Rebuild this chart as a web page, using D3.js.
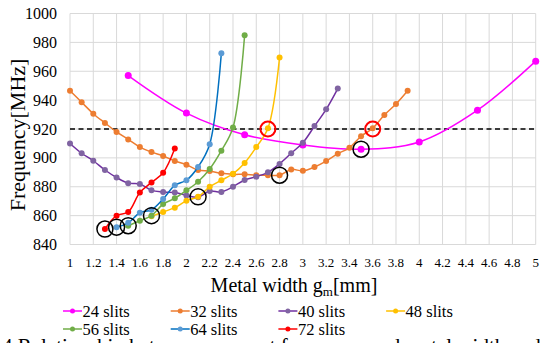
<!DOCTYPE html>
<html>
<head>
<meta charset="utf-8">
<script src="https://cdn.jsdelivr.net/npm/d3@7"></script>
<style>
  html, body { margin: 0; padding: 0; background: #fff; overflow: hidden; }
  svg { display: block; }
  .serif { font-family: 'Times New Roman', 'Liberation Serif', Tinos, 'DejaVu Serif', 'Noto Serif', Times, serif; }
</style>
</head>
<body>
<div id="chart"></div>
<script>
// Frequency vs metal width for different slit counts
const x24 = [1.5, 2.0, 2.5, 3.0, 3.5, 4.0, 4.5, 5.0];
const y24 = [957, 931, 916, 909, 906, 911, 933, 967];

const x32 = [1.0, 1.1, 1.2, 1.3, 1.4, 1.5, 1.6, 1.7, 1.8, 1.9, 2.0, 2.1, 2.2, 2.3, 2.4,
             2.5, 2.6, 2.7, 2.8, 2.9, 3.0, 3.1, 3.2, 3.3, 3.4, 3.5, 3.6, 3.7, 3.8, 3.9];
const y32 = [946.5, 938.5, 930.6, 924.2, 918, 912.8, 907.5, 904, 901.3, 897.8, 895.3, 891.6, 890.9, 889.3, 888.6,
             888.6, 888, 888, 888, 892, 891, 893.7, 897.8, 902.9, 907, 915, 920.5, 929.7, 937.3, 946.5];

const x40 = [1.0, 1.1, 1.2, 1.3, 1.4, 1.5, 1.6, 1.7, 1.8, 1.9, 2.0, 2.1,
             2.2, 2.3, 2.4, 2.5, 2.6, 2.7, 2.8, 2.9, 3.0, 3.1, 3.2, 3.3];
const y40 = [910, 903.2, 898, 891.6, 886.4, 882.5, 881.9, 877.5, 876.4, 876, 874, 872.8,
             877, 876.4, 880, 884.7, 887, 890, 895.8, 903.2, 910.5, 922, 933.6, 948];

const x48 = [1.7, 1.8, 1.9, 2.0, 2.1, 2.2, 2.3, 2.4, 2.5, 2.6, 2.7, 2.8];
const y48 = [859.5, 862.5, 865.5, 870.3, 873, 880, 884.5, 889, 896.5, 907.5, 920.5, 969.5];

const x56 = [1.5, 1.6, 1.7, 1.8, 1.9, 2.0, 2.1, 2.2, 2.3, 2.4, 2.5];
const y56 = [853, 856.5, 860, 868, 872, 877.5, 883.5, 892.3, 905, 921, 985];

const x64 = [1.4, 1.5, 1.6, 1.7, 1.8, 1.9, 2.0, 2.1, 2.2, 2.3];
const y64 = [852, 855, 862, 864, 871.5, 881, 884.5, 893.7, 909.5, 972.5];

const x72 = [1.3, 1.4, 1.5, 1.6, 1.7, 1.8, 1.9];
const y72 = [850.7, 860, 862.5, 876, 883, 889.7, 906.5];

const seriesNames = ["24 slits", "32 slits", "40 slits", "48 slits", "56 slits", "64 slits", "72 slits"];
const lineColors = ["#ff00ff", "#ed7d31", "#7030a0", "#ffc000", "#70ad47", "#0070c0", "#ff0000"];
const dotColors = ["#ff00ff", "#ed7d31", "#8064a2", "#ffc000", "#70ad47", "#5b9bd5", "#ff0000"];

// black circles: minimum of each series; red circles: 920 MHz crossings
const minMarks = [[1.3, 850.7], [1.4, 852], [1.5, 853], [1.7, 860], [2.1, 873], [2.8, 888], [3.5, 906]];
const targetMarks = [[2.7, 920], [3.6, 920]];
const targetFreq = 920;

const xTicks = d3.range(1, 5.0001, 0.2).map(v => +v.toFixed(1));
const yTicks = [840, 860, 880, 900, 920, 940, 960, 980, 1000];

const seriesX = [x24, x32, x40, x48, x56, x64, x72];
const seriesY = [y24, y32, y40, y48, y56, y64, y72];
const series = seriesNames.map((name, i) => ({
    name: name,
    line: lineColors[i],
    dot: dotColors[i],
    points: seriesX[i].map((xv, j) => [xv, seriesY[i][j]])
}));

const width = 540, height = 343;
const plot = { left: 70, right: 535.7, top: 13.5, bottom: 244.5 };

const svg = d3.select('#chart').append('svg')
    .attr('width', width)
    .attr('height', height);

const x = d3.scaleLinear().domain([1, 5]).range([plot.left, plot.right]);
const y = d3.scaleLinear().domain([840, 1000]).range([plot.bottom, plot.top]);

// grid
svg.append('g').selectAll('line.v')
    .data(xTicks)
    .enter().append('line')
    .attr('x1', d => x(d)).attr('x2', d => x(d))
    .attr('y1', plot.top).attr('y2', plot.bottom)
    .attr('stroke', '#d9d9d9').attr('stroke-width', 1);

svg.append('g').selectAll('line.h')
    .data(yTicks)
    .enter().append('line')
    .attr('x1', plot.left).attr('x2', plot.right)
    .attr('y1', d => y(d)).attr('y2', d => y(d))
    .attr('stroke', '#d9d9d9').attr('stroke-width', 1);

// tick labels
svg.append('g').selectAll('text')
    .data(yTicks)
    .enter().append('text')
    .attr('class', 'serif')
    .attr('x', 57)
    .attr('y', d => y(d) + 5.5)
    .attr('text-anchor', 'end')
    .attr('font-size', 16)
    .attr('fill', '#000')
    .text(d => d);

svg.append('g').selectAll('text')
    .data(xTicks)
    .enter().append('text')
    .attr('class', 'serif')
    .attr('x', d => x(d))
    .attr('y', 267)
    .attr('text-anchor', 'middle')
    .attr('font-size', 13)
    .attr('fill', '#000')
    .text(d => d);

// target frequency
svg.append('line')
    .attr('x1', x(1)).attr('x2', x(5))
    .attr('y1', y(targetFreq)).attr('y2', y(targetFreq))
    .attr('stroke', '#000')
    .attr('stroke-width', 1.5)
    .attr('stroke-dasharray', '5,3.5');

const line = d3.line()
    .x(d => x(d[0]))
    .y(d => y(d[1]))
    .curve(d3.curveCatmullRom.alpha(0.5));

const g = svg.append('g').selectAll('g')
    .data(series)
    .enter().append('g');

g.append('path')
    .attr('d', d => line(d.points))
    .attr('fill', 'none')
    .attr('stroke', d => d.line)
    .attr('stroke-width', 1.5);

g.selectAll('circle')
    .data(d => d.points.map(p => ({ p: p, c: d.dot, big: d.name === '24 slits' })))
    .enter().append('circle')
    .attr('cx', d => x(d.p[0]))
    .attr('cy', d => y(d.p[1]))
    .attr('r', d => d.big ? 3.5 : 3)
    .attr('fill', d => d.c);

// highlight rings
svg.append('g').selectAll('circle')
    .data(minMarks)
    .enter().append('circle')
    .attr('cx', d => x(d[0]))
    .attr('cy', d => y(d[1]))
    .attr('r', 8)
    .attr('fill', 'none')
    .attr('stroke', '#000')
    .attr('stroke-width', 1.5);

svg.append('g').selectAll('circle')
    .data(targetMarks)
    .enter().append('circle')
    .attr('cx', d => x(d[0]))
    .attr('cy', d => y(d[1]))
    .attr('r', 7.5)
    .attr('fill', 'none')
    .attr('stroke', '#ff0000')
    .attr('stroke-width', 2);

// axis titles
svg.append('text')
    .attr('class', 'serif')
    .attr('transform', 'translate(25,135) rotate(-90)')
    .attr('text-anchor', 'middle')
    .attr('font-size', 22)
    .text('Frequency[MHz]');

const xt = svg.append('text')
    .attr('class', 'serif')
    .attr('x', 294)
    .attr('y', 292)
    .attr('text-anchor', 'middle')
    .attr('font-size', 20);
xt.append('tspan').text('Metal width  g');
xt.append('tspan').attr('font-size', 13).attr('dy', 4).text('m');
xt.append('tspan').attr('dy', -4).text('[mm]');

// legend
const legend = svg.append('g').selectAll('g')
    .data(series)
    .enter().append('g')
    .attr('transform', (d, i) => `translate(${63 + (i % 4) * 107.7},${i < 4 ? 311 : 329})`);

legend.append('line')
    .attr('x1', 0).attr('x2', 19)
    .attr('stroke', d => d.line)
    .attr('stroke-width', 1.5);

legend.append('circle')
    .attr('cx', 9.5)
    .attr('r', 2.5)
    .attr('fill', d => d.dot);

legend.append('text')
    .attr('class', 'serif')
    .attr('x', 19.5)
    .attr('y', 5.5)
    .attr('font-size', 16.5)
    .text(d => d.name);

// figure caption, cut off by the frame
svg.append('text')
    .attr('class', 'serif')
    .attr('x', 2)
    .attr('y', 353)
    .attr('font-size', 21)
    .text('4 Relationship between resonant frequency and metal width and number');
</script>
</body>
</html>
